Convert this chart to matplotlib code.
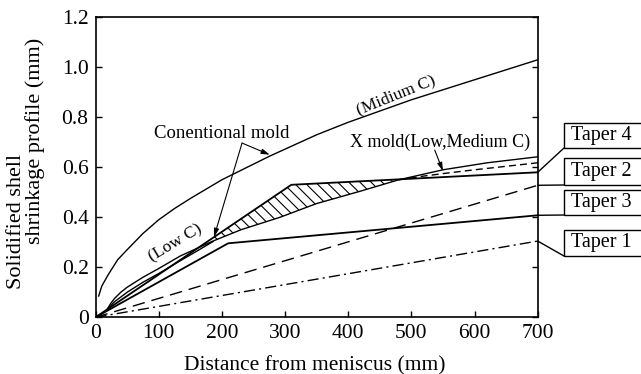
import numpy as np
import matplotlib
matplotlib.use('Agg')
import matplotlib.pyplot as plt
from matplotlib.patches import Rectangle

plt.rcParams['font.family'] = ['Liberation Serif', 'DejaVu Serif']
plt.rcParams['hatch.linewidth'] = 0.8

# conventional mold, medium carbon
mid_x = [5, 10, 20, 35, 50, 75, 100, 125, 150, 200, 276, 350, 400, 500, 600, 700]
mid_y = [0.085, 0.125, 0.17, 0.23, 0.27, 0.335, 0.39, 0.435, 0.475, 0.55, 0.645,
         0.73, 0.78, 0.87, 0.95, 1.03]

# low carbon shell (continues as the X mold curve)
low_x = [18, 24, 30, 40, 50, 75, 100, 134, 160, 186, 230, 292, 350, 420, 480, 550, 620, 700]
low_y = [0.03, 0.055, 0.075, 0.1, 0.12, 0.16, 0.195, 0.245, 0.275, 0.305, 0.35, 0.40,
         0.455, 0.505, 0.55, 0.59, 0.618, 0.642]

# second low carbon curve close to the first near the meniscus
low2_x = [18, 30, 50, 75, 100, 134, 160, 186]
low2_y = [0.03, 0.062, 0.1, 0.14, 0.175, 0.226, 0.264, 0.303]

# X mold, medium carbon (dashed part)
xmed_x = [480, 520, 560, 600, 650, 700]
xmed_y = [0.55, 0.565, 0.578, 0.59, 0.604, 0.618]

# mold taper lines
taper1_x, taper1_y = [0, 700], [0, 0.305]
taper2_x, taper2_y = [0, 700], [0, 0.528]
taper3_x, taper3_y = [0, 210, 700], [0, 0.296, 0.408]
taper4_x, taper4_y = [0, 310, 700], [0, 0.53, 0.58]

W, H = 641, 374
fig = plt.figure(figsize=(W / 100, H / 100), dpi=100)
ax = fig.add_axes([95.5 / W, 1 - 317.3 / H, 442.2 / W, 300 / H])

lw = 1.0
ax.plot(mid_x, mid_y, color='black', lw=lw)
ax.plot(low_x, low_y, color='black', lw=lw)
ax.plot(low2_x, low2_y, color='black', lw=lw)
ax.plot(xmed_x, xmed_y, color='black', lw=lw, dashes=(5, 3))
ax.plot(taper1_x, taper1_y, color='black', lw=lw, dashes=(8, 3, 1.5, 3))
ax.plot(taper2_x, taper2_y, color='black', lw=lw, dashes=(9, 5))
ax.plot(taper3_x, taper3_y, color='black', lw=1.3)
ax.plot(taper4_x, taper4_y, color='black', lw=1.3)

# hatched gap between taper 4 and the shell
xs = np.linspace(186, 482, 120)
top = np.interp(xs, taper4_x, taper4_y)
bot = np.interp(xs, low_x, low_y)
ax.fill_between(xs, bot, top, where=top >= bot, facecolor='white',
                edgecolor='black', hatch='\\\\\\', lw=0)

ax.set_xlim(0, 700)
ax.set_ylim(0, 1.2)
ax.set_xticks(range(0, 701, 100))
ax.set_yticks([0, 0.2, 0.4, 0.6, 0.8, 1.0, 1.2])
ax.set_yticklabels(['0', '0.2', '0.4', '0.6', '0.8', '1.0', '1.2'])
ax.tick_params(direction='in', length=4, width=1, right=True, top=False,
               labelsize=15.5, pad=5)
for s in ax.spines.values():
    s.set_linewidth(1.2)

ax.set_xlabel('Distance from meniscus (mm)', fontsize=15.5)
ax.xaxis.set_label_coords(0.495, -0.128)

# two-line y label, each line placed on its own
fig.text(17 / W, 1 - 221 / H, 'Solidified shell', fontsize=16, rotation=90,
         ha='center', va='center')
fig.text(35 / W, 1 - 141 / H, 'shrinkage profile (mm)', fontsize=16, rotation=90,
         ha='center', va='center')

ax.text(475, 0.89, '(Midium C)', fontsize=12.5, rotation=22, ha='center', va='center')
ax.text(126, 0.297, '(Low C)', fontsize=12.5, rotation=31, ha='center', va='center')
ax.text(200, 0.737, 'Conentional mold', fontsize=13.5, ha='center', va='center')
ax.text(545, 0.70, 'X mold(Low,Medium C)', fontsize=13, ha='center', va='center')

arr = dict(arrowstyle='-|>,head_length=0.5,head_width=0.15', color='black',
           lw=0.8, shrinkA=0, shrinkB=0)
ax.annotate('', xy=(276, 0.65), xytext=(232, 0.697), arrowprops=arr)
ax.annotate('', xy=(187.5, 0.321), xytext=(232, 0.697), arrowprops=arr)
ax.annotate('', xy=(550, 0.585), xytext=(537, 0.669), arrowprops=arr)

# taper labels outside the right spine: (name, value, box bottom, box top, corner y)
tapers = [
    ('Taper 4', taper4_y[-1], 226, 251, 226),
    ('Taper 2', taper2_y[-1], 189, 216, 189),
    ('Taper 3', taper3_y[-1], 159, 184, 159),
    ('Taper 1', taper1_y[-1], 118, 144, 118),
]
bx = 564
for name, val, b, t, cy in tapers:
    fig.patches.append(Rectangle((bx / W, b / H), 90 / W, (t - b) / H,
                                 transform=fig.transFigure, fill=False,
                                 edgecolor='black', lw=1.0))
    fig.text(571 / W, (b + t) / 2 / H, name, fontsize=14.5, va='center', ha='left')
    ax.annotate('', xy=(700, val), xycoords='data',
                xytext=(bx / W, cy / H), textcoords='figure fraction',
                arrowprops=dict(arrowstyle='-', color='black', lw=1.0,
                                shrinkA=0, shrinkB=0),
                annotation_clip=False)

fig.savefig('out.png', dpi=100)
